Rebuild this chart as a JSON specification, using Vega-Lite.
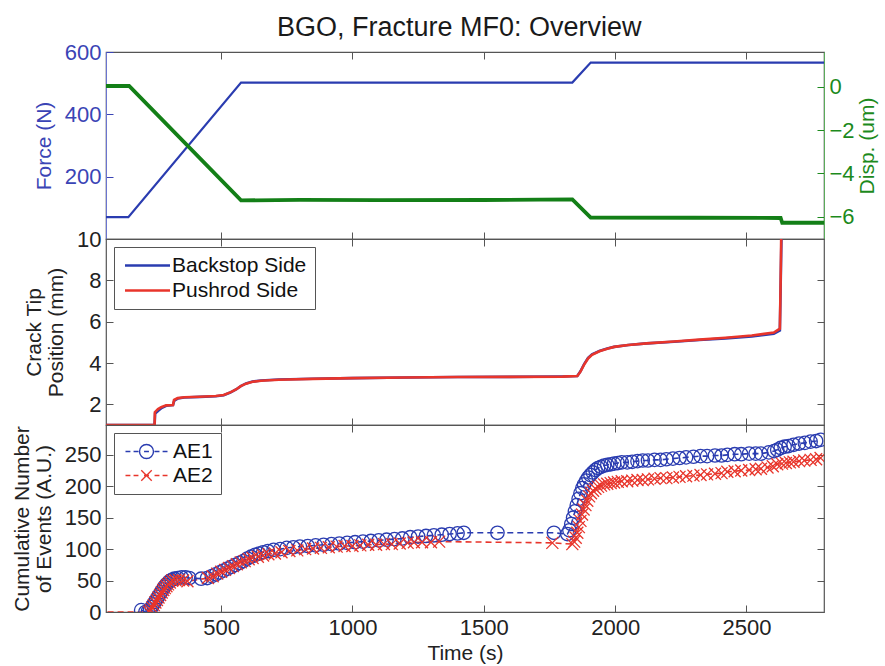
{
  "$schema": "https://vega.github.io/schema/vega-lite/v6.json",
  "background": "white",
  "padding": {"top": 14, "left": 10, "right": 5, "bottom": 3},
  "title": {"text": "BGO, Fracture MF0: Overview", "fontSize": 27, "fontWeight": "normal", "color": "#1a1a1a", "anchor": "middle", "offset": -2, "dx": 15, "font": "Liberation Sans"},
  "config": {
    "font": "Liberation Sans",
    "view": {"stroke": "#555555", "strokeWidth": 1.2},
    "axis": {"grid": false, "labelFontSize": 22, "titleFontSize": 21, "titleFontWeight": "normal", "labelColor": "#222222", "titleColor": "#222222", "domainColor": "#555555", "tickColor": "#555555", "tickSize": -7, "labelPadding": 12, "titlePadding": 10, "titleLineHeight": 22, "labelOverlap": false, "format": "d"}
  },
  "spacing": 0,
  "bounds": "flush",
  "resolve": {"scale": {"color": "independent", "shape": "independent"}, "legend": {"color": "independent", "shape": "independent"}},
  "datasets": {
    "force": [
      {"t": 62, "f": 70}, {"t": 147, "f": 70}, {"t": 576, "f": 502}, {"t": 1837, "f": 502}, {"t": 1907, "f": 566}, {"t": 2795, "f": 566}
    ],
    "disp": [
      {"t": 62, "d": 0.03}, {"t": 150, "d": 0.03}, {"t": 576, "d": -5.25}, {"t": 800, "d": -5.22}, {"t": 1100, "d": -5.24}, {"t": 1500, "d": -5.23}, {"t": 1837, "d": -5.2}, {"t": 1907, "d": -6.04}, {"t": 2300, "d": -6.05}, {"t": 2630, "d": -6.06}, {"t": 2636, "d": -6.28}, {"t": 2795, "d": -6.28}
    ],
    "crack": [
      {"t": 62, "v": 1.0, "s": "Backstop Side"}, {"t": 247, "v": 1.0, "s": "Backstop Side"}, {"t": 249, "v": 1.55, "s": "Backstop Side"}, {"t": 262, "v": 1.7, "s": "Backstop Side"}, {"t": 275, "v": 1.83, "s": "Backstop Side"}, {"t": 291, "v": 1.93, "s": "Backstop Side"}, {"t": 317, "v": 1.97, "s": "Backstop Side"}, {"t": 322, "v": 2.18, "s": "Backstop Side"}, {"t": 335, "v": 2.28, "s": "Backstop Side"}, {"t": 360, "v": 2.33, "s": "Backstop Side"}, {"t": 420, "v": 2.36, "s": "Backstop Side"}, {"t": 480, "v": 2.39, "s": "Backstop Side"}, {"t": 510, "v": 2.44, "s": "Backstop Side"}, {"t": 535, "v": 2.57, "s": "Backstop Side"}, {"t": 557, "v": 2.72, "s": "Backstop Side"}, {"t": 575, "v": 2.88, "s": "Backstop Side"}, {"t": 595, "v": 3.01, "s": "Backstop Side"}, {"t": 620, "v": 3.1, "s": "Backstop Side"}, {"t": 652, "v": 3.15, "s": "Backstop Side"}, {"t": 720, "v": 3.2, "s": "Backstop Side"}, {"t": 850, "v": 3.24, "s": "Backstop Side"}, {"t": 1000, "v": 3.27, "s": "Backstop Side"}, {"t": 1200, "v": 3.3, "s": "Backstop Side"}, {"t": 1400, "v": 3.32, "s": "Backstop Side"}, {"t": 1600, "v": 3.33, "s": "Backstop Side"}, {"t": 1800, "v": 3.35, "s": "Backstop Side"}, {"t": 1856, "v": 3.37, "s": "Backstop Side"}, {"t": 1868, "v": 3.6, "s": "Backstop Side"}, {"t": 1882, "v": 3.95, "s": "Backstop Side"}, {"t": 1897, "v": 4.25, "s": "Backstop Side"}, {"t": 1912, "v": 4.42, "s": "Backstop Side"}, {"t": 1940, "v": 4.58, "s": "Backstop Side"}, {"t": 1970, "v": 4.7, "s": "Backstop Side"}, {"t": 1996, "v": 4.78, "s": "Backstop Side"}, {"t": 2050, "v": 4.87, "s": "Backstop Side"}, {"t": 2120, "v": 4.95, "s": "Backstop Side"}, {"t": 2224, "v": 5.03, "s": "Backstop Side"}, {"t": 2320, "v": 5.11, "s": "Backstop Side"}, {"t": 2420, "v": 5.19, "s": "Backstop Side"}, {"t": 2520, "v": 5.28, "s": "Backstop Side"}, {"t": 2604, "v": 5.41, "s": "Backstop Side"}, {"t": 2627, "v": 5.57, "s": "Backstop Side"}, {"t": 2631, "v": 8.5, "s": "Backstop Side"}, {"t": 2633, "v": 10.0, "s": "Backstop Side"},
      {"t": 62, "v": 1.0, "s": "Pushrod Side"}, {"t": 247, "v": 1.0, "s": "Pushrod Side"}, {"t": 248, "v": 1.62, "s": "Pushrod Side"}, {"t": 260, "v": 1.77, "s": "Pushrod Side"}, {"t": 272, "v": 1.86, "s": "Pushrod Side"}, {"t": 291, "v": 1.95, "s": "Pushrod Side"}, {"t": 317, "v": 1.97, "s": "Pushrod Side"}, {"t": 321, "v": 2.21, "s": "Pushrod Side"}, {"t": 335, "v": 2.3, "s": "Pushrod Side"}, {"t": 360, "v": 2.34, "s": "Pushrod Side"}, {"t": 420, "v": 2.37, "s": "Pushrod Side"}, {"t": 480, "v": 2.4, "s": "Pushrod Side"}, {"t": 510, "v": 2.45, "s": "Pushrod Side"}, {"t": 535, "v": 2.58, "s": "Pushrod Side"}, {"t": 557, "v": 2.72, "s": "Pushrod Side"}, {"t": 575, "v": 2.88, "s": "Pushrod Side"}, {"t": 595, "v": 3.0, "s": "Pushrod Side"}, {"t": 620, "v": 3.09, "s": "Pushrod Side"}, {"t": 652, "v": 3.14, "s": "Pushrod Side"}, {"t": 720, "v": 3.19, "s": "Pushrod Side"}, {"t": 850, "v": 3.23, "s": "Pushrod Side"}, {"t": 1000, "v": 3.27, "s": "Pushrod Side"}, {"t": 1200, "v": 3.3, "s": "Pushrod Side"}, {"t": 1400, "v": 3.32, "s": "Pushrod Side"}, {"t": 1600, "v": 3.33, "s": "Pushrod Side"}, {"t": 1800, "v": 3.34, "s": "Pushrod Side"}, {"t": 1856, "v": 3.37, "s": "Pushrod Side"}, {"t": 1868, "v": 3.58, "s": "Pushrod Side"}, {"t": 1882, "v": 3.92, "s": "Pushrod Side"}, {"t": 1897, "v": 4.22, "s": "Pushrod Side"}, {"t": 1912, "v": 4.4, "s": "Pushrod Side"}, {"t": 1940, "v": 4.57, "s": "Pushrod Side"}, {"t": 1970, "v": 4.69, "s": "Pushrod Side"}, {"t": 1996, "v": 4.78, "s": "Pushrod Side"}, {"t": 2050, "v": 4.87, "s": "Pushrod Side"}, {"t": 2120, "v": 4.95, "s": "Pushrod Side"}, {"t": 2224, "v": 5.04, "s": "Pushrod Side"}, {"t": 2320, "v": 5.13, "s": "Pushrod Side"}, {"t": 2420, "v": 5.22, "s": "Pushrod Side"}, {"t": 2520, "v": 5.33, "s": "Pushrod Side"}, {"t": 2604, "v": 5.47, "s": "Pushrod Side"}, {"t": 2627, "v": 5.66, "s": "Pushrod Side"}, {"t": 2630, "v": 8.0, "s": "Pushrod Side"}, {"t": 2632, "v": 10.0, "s": "Pushrod Side"}
    ],
    "ae": [
      {"t": 196, "n": 3, "s": "AE1"}, {"t": 212, "n": 0, "s": "AE1"}, {"t": 222, "n": 1, "s": "AE1"}, {"t": 230, "n": 4, "s": "AE1"}, {"t": 236, "n": 8, "s": "AE1"}, {"t": 242, "n": 12, "s": "AE1"}, {"t": 248, "n": 16, "s": "AE1"}, {"t": 254, "n": 20, "s": "AE1"}, {"t": 260, "n": 24, "s": "AE1"}, {"t": 266, "n": 28, "s": "AE1"}, {"t": 272, "n": 32, "s": "AE1"}, {"t": 278, "n": 36, "s": "AE1"}, {"t": 284, "n": 40, "s": "AE1"}, {"t": 290, "n": 43, "s": "AE1"}, {"t": 297, "n": 46, "s": "AE1"}, {"t": 304, "n": 49, "s": "AE1"}, {"t": 312, "n": 51, "s": "AE1"}, {"t": 322, "n": 53, "s": "AE1"}, {"t": 335, "n": 54, "s": "AE1"}, {"t": 350, "n": 55, "s": "AE1"}, {"t": 365, "n": 55, "s": "AE1"}, {"t": 379, "n": 54, "s": "AE1"}, {"t": 424, "n": 53, "s": "AE1"}, {"t": 447, "n": 54, "s": "AE1"}, {"t": 465, "n": 57, "s": "AE1"}, {"t": 480, "n": 60, "s": "AE1"}, {"t": 495, "n": 63, "s": "AE1"}, {"t": 510, "n": 66, "s": "AE1"}, {"t": 525, "n": 69, "s": "AE1"}, {"t": 540, "n": 72, "s": "AE1"}, {"t": 555, "n": 75, "s": "AE1"}, {"t": 570, "n": 78, "s": "AE1"}, {"t": 585, "n": 81, "s": "AE1"}, {"t": 600, "n": 85, "s": "AE1"}, {"t": 614, "n": 88, "s": "AE1"}, {"t": 630, "n": 91, "s": "AE1"}, {"t": 645, "n": 93, "s": "AE1"}, {"t": 660, "n": 95, "s": "AE1"}, {"t": 678, "n": 97, "s": "AE1"}, {"t": 700, "n": 99, "s": "AE1"}, {"t": 725, "n": 100, "s": "AE1"}, {"t": 750, "n": 102, "s": "AE1"}, {"t": 775, "n": 103, "s": "AE1"}, {"t": 800, "n": 104, "s": "AE1"}, {"t": 830, "n": 105, "s": "AE1"}, {"t": 860, "n": 106, "s": "AE1"}, {"t": 890, "n": 107, "s": "AE1"}, {"t": 920, "n": 108, "s": "AE1"}, {"t": 950, "n": 109, "s": "AE1"}, {"t": 980, "n": 110, "s": "AE1"}, {"t": 1010, "n": 111, "s": "AE1"}, {"t": 1040, "n": 112, "s": "AE1"}, {"t": 1070, "n": 113, "s": "AE1"}, {"t": 1100, "n": 114, "s": "AE1"}, {"t": 1130, "n": 115, "s": "AE1"}, {"t": 1160, "n": 116, "s": "AE1"}, {"t": 1190, "n": 117, "s": "AE1"}, {"t": 1220, "n": 119, "s": "AE1"}, {"t": 1250, "n": 120, "s": "AE1"}, {"t": 1280, "n": 121, "s": "AE1"}, {"t": 1310, "n": 122, "s": "AE1"}, {"t": 1340, "n": 123, "s": "AE1"}, {"t": 1370, "n": 124, "s": "AE1"}, {"t": 1400, "n": 125, "s": "AE1"}, {"t": 1424, "n": 126, "s": "AE1"}, {"t": 1552, "n": 126, "s": "AE1"}, {"t": 1767, "n": 126, "s": "AE1"}, {"t": 1818, "n": 124, "s": "AE1"}, {"t": 1826, "n": 130, "s": "AE1"}, {"t": 1833, "n": 140, "s": "AE1"}, {"t": 1840, "n": 150, "s": "AE1"}, {"t": 1847, "n": 160, "s": "AE1"}, {"t": 1854, "n": 170, "s": "AE1"}, {"t": 1861, "n": 180, "s": "AE1"}, {"t": 1868, "n": 189, "s": "AE1"}, {"t": 1875, "n": 197, "s": "AE1"}, {"t": 1882, "n": 203, "s": "AE1"}, {"t": 1890, "n": 209, "s": "AE1"}, {"t": 1898, "n": 214, "s": "AE1"}, {"t": 1906, "n": 218, "s": "AE1"}, {"t": 1915, "n": 222, "s": "AE1"}, {"t": 1925, "n": 226, "s": "AE1"}, {"t": 1935, "n": 229, "s": "AE1"}, {"t": 1946, "n": 231, "s": "AE1"}, {"t": 1958, "n": 233, "s": "AE1"}, {"t": 1970, "n": 234, "s": "AE1"}, {"t": 1983, "n": 235, "s": "AE1"}, {"t": 1996, "n": 236, "s": "AE1"}, {"t": 2010, "n": 237, "s": "AE1"}, {"t": 2025, "n": 238, "s": "AE1"}, {"t": 2046, "n": 238, "s": "AE1"}, {"t": 2065, "n": 239, "s": "AE1"}, {"t": 2085, "n": 240, "s": "AE1"}, {"t": 2105, "n": 241, "s": "AE1"}, {"t": 2125, "n": 241, "s": "AE1"}, {"t": 2150, "n": 242, "s": "AE1"}, {"t": 2173, "n": 242, "s": "AE1"}, {"t": 2195, "n": 243, "s": "AE1"}, {"t": 2220, "n": 244, "s": "AE1"}, {"t": 2245, "n": 245, "s": "AE1"}, {"t": 2270, "n": 246, "s": "AE1"}, {"t": 2298, "n": 247, "s": "AE1"}, {"t": 2325, "n": 248, "s": "AE1"}, {"t": 2350, "n": 248, "s": "AE1"}, {"t": 2380, "n": 249, "s": "AE1"}, {"t": 2405, "n": 249, "s": "AE1"}, {"t": 2427, "n": 250, "s": "AE1"}, {"t": 2455, "n": 251, "s": "AE1"}, {"t": 2480, "n": 251, "s": "AE1"}, {"t": 2510, "n": 252, "s": "AE1"}, {"t": 2535, "n": 252, "s": "AE1"}, {"t": 2555, "n": 252, "s": "AE1"}, {"t": 2585, "n": 254, "s": "AE1"}, {"t": 2605, "n": 256, "s": "AE1"}, {"t": 2617, "n": 258, "s": "AE1"}, {"t": 2630, "n": 261, "s": "AE1"}, {"t": 2645, "n": 263, "s": "AE1"}, {"t": 2660, "n": 264, "s": "AE1"}, {"t": 2679, "n": 266, "s": "AE1"}, {"t": 2700, "n": 268, "s": "AE1"}, {"t": 2722, "n": 269, "s": "AE1"}, {"t": 2744, "n": 271, "s": "AE1"}, {"t": 2765, "n": 272, "s": "AE1"}, {"t": 2782, "n": 274, "s": "AE1"},
      {"t": 30, "n": 0, "s": "AE2"}, {"t": 226, "n": 0, "s": "AE2"}, {"t": 232, "n": 3, "s": "AE2"}, {"t": 238, "n": 7, "s": "AE2"}, {"t": 244, "n": 11, "s": "AE2"}, {"t": 250, "n": 15, "s": "AE2"}, {"t": 256, "n": 19, "s": "AE2"}, {"t": 262, "n": 23, "s": "AE2"}, {"t": 268, "n": 27, "s": "AE2"}, {"t": 274, "n": 31, "s": "AE2"}, {"t": 280, "n": 35, "s": "AE2"}, {"t": 286, "n": 38, "s": "AE2"}, {"t": 292, "n": 41, "s": "AE2"}, {"t": 298, "n": 44, "s": "AE2"}, {"t": 305, "n": 47, "s": "AE2"}, {"t": 314, "n": 50, "s": "AE2"}, {"t": 326, "n": 51, "s": "AE2"}, {"t": 340, "n": 51, "s": "AE2"}, {"t": 355, "n": 50, "s": "AE2"}, {"t": 372, "n": 49, "s": "AE2"}, {"t": 450, "n": 54, "s": "AE2"}, {"t": 468, "n": 57, "s": "AE2"}, {"t": 485, "n": 61, "s": "AE2"}, {"t": 500, "n": 64, "s": "AE2"}, {"t": 515, "n": 67, "s": "AE2"}, {"t": 530, "n": 70, "s": "AE2"}, {"t": 545, "n": 73, "s": "AE2"}, {"t": 560, "n": 76, "s": "AE2"}, {"t": 575, "n": 79, "s": "AE2"}, {"t": 590, "n": 81, "s": "AE2"}, {"t": 605, "n": 84, "s": "AE2"}, {"t": 620, "n": 86, "s": "AE2"}, {"t": 640, "n": 88, "s": "AE2"}, {"t": 660, "n": 90, "s": "AE2"}, {"t": 680, "n": 92, "s": "AE2"}, {"t": 705, "n": 93, "s": "AE2"}, {"t": 730, "n": 95, "s": "AE2"}, {"t": 760, "n": 97, "s": "AE2"}, {"t": 790, "n": 98, "s": "AE2"}, {"t": 820, "n": 100, "s": "AE2"}, {"t": 850, "n": 101, "s": "AE2"}, {"t": 880, "n": 102, "s": "AE2"}, {"t": 910, "n": 103, "s": "AE2"}, {"t": 940, "n": 104, "s": "AE2"}, {"t": 970, "n": 105, "s": "AE2"}, {"t": 1000, "n": 105, "s": "AE2"}, {"t": 1030, "n": 106, "s": "AE2"}, {"t": 1060, "n": 107, "s": "AE2"}, {"t": 1090, "n": 107, "s": "AE2"}, {"t": 1120, "n": 108, "s": "AE2"}, {"t": 1150, "n": 108, "s": "AE2"}, {"t": 1180, "n": 109, "s": "AE2"}, {"t": 1210, "n": 110, "s": "AE2"}, {"t": 1234, "n": 111, "s": "AE2"}, {"t": 1265, "n": 111, "s": "AE2"}, {"t": 1299, "n": 111, "s": "AE2"}, {"t": 1330, "n": 112, "s": "AE2"}, {"t": 1761, "n": 110, "s": "AE2"}, {"t": 1837, "n": 108, "s": "AE2"}, {"t": 1844, "n": 112, "s": "AE2"}, {"t": 1850, "n": 118, "s": "AE2"}, {"t": 1856, "n": 126, "s": "AE2"}, {"t": 1862, "n": 135, "s": "AE2"}, {"t": 1868, "n": 145, "s": "AE2"}, {"t": 1874, "n": 155, "s": "AE2"}, {"t": 1880, "n": 163, "s": "AE2"}, {"t": 1887, "n": 170, "s": "AE2"}, {"t": 1894, "n": 177, "s": "AE2"}, {"t": 1901, "n": 184, "s": "AE2"}, {"t": 1908, "n": 189, "s": "AE2"}, {"t": 1916, "n": 193, "s": "AE2"}, {"t": 1925, "n": 196, "s": "AE2"}, {"t": 1935, "n": 199, "s": "AE2"}, {"t": 1946, "n": 201, "s": "AE2"}, {"t": 1958, "n": 203, "s": "AE2"}, {"t": 1970, "n": 204, "s": "AE2"}, {"t": 1983, "n": 205, "s": "AE2"}, {"t": 1996, "n": 206, "s": "AE2"}, {"t": 2010, "n": 207, "s": "AE2"}, {"t": 2025, "n": 208, "s": "AE2"}, {"t": 2046, "n": 208, "s": "AE2"}, {"t": 2065, "n": 209, "s": "AE2"}, {"t": 2085, "n": 210, "s": "AE2"}, {"t": 2105, "n": 210, "s": "AE2"}, {"t": 2125, "n": 211, "s": "AE2"}, {"t": 2150, "n": 212, "s": "AE2"}, {"t": 2173, "n": 213, "s": "AE2"}, {"t": 2195, "n": 213, "s": "AE2"}, {"t": 2220, "n": 214, "s": "AE2"}, {"t": 2245, "n": 215, "s": "AE2"}, {"t": 2270, "n": 216, "s": "AE2"}, {"t": 2298, "n": 217, "s": "AE2"}, {"t": 2325, "n": 218, "s": "AE2"}, {"t": 2350, "n": 219, "s": "AE2"}, {"t": 2380, "n": 220, "s": "AE2"}, {"t": 2405, "n": 221, "s": "AE2"}, {"t": 2427, "n": 223, "s": "AE2"}, {"t": 2455, "n": 224, "s": "AE2"}, {"t": 2480, "n": 225, "s": "AE2"}, {"t": 2510, "n": 226, "s": "AE2"}, {"t": 2535, "n": 227, "s": "AE2"}, {"t": 2555, "n": 228, "s": "AE2"}, {"t": 2580, "n": 230, "s": "AE2"}, {"t": 2600, "n": 232, "s": "AE2"}, {"t": 2617, "n": 235, "s": "AE2"}, {"t": 2635, "n": 236, "s": "AE2"}, {"t": 2650, "n": 237, "s": "AE2"}, {"t": 2665, "n": 238, "s": "AE2"}, {"t": 2679, "n": 239, "s": "AE2"}, {"t": 2700, "n": 240, "s": "AE2"}, {"t": 2720, "n": 241, "s": "AE2"}, {"t": 2744, "n": 242, "s": "AE2"}, {"t": 2765, "n": 243, "s": "AE2"}, {"t": 2782, "n": 245, "s": "AE2"}
    ]
  },
  "vconcat": [
    {
      "width": 718, "height": 187,
      "layer": [
        {
          "data": {"name": "force"},
          "mark": {"type": "line", "color": "#2a3cb0", "strokeWidth": 2.2, "clip": true},
          "encoding": {
            "x": {"field": "t", "type": "quantitative", "scale": {"domain": [62, 2795], "nice": false, "zero": false}, "axis": {"orient": "bottom", "labels": false, "title": null, "values": [500, 1000, 1500, 2000, 2500], "domain": false}},
            "y": {"field": "f", "type": "quantitative", "scale": {"domain": [0, 600], "nice": false, "zero": false}, "axis": {"orient": "left", "values": [200, 400, 600], "title": "Force (N)", "labelColor": "#3a44b5", "titleColor": "#3a44b5", "domainColor": "#6a74d0", "tickColor": "#3a44b5"}}
          }
        },
        {
          "data": {"name": "disp"},
          "mark": {"type": "line", "color": "#137f17", "strokeWidth": 3.8, "clip": true},
          "encoding": {
            "x": {"field": "t", "type": "quantitative", "scale": {"domain": [62, 2795], "nice": false, "zero": false}, "axis": {"orient": "top", "labels": false, "title": null, "values": [500, 1000, 1500, 2000, 2500], "domain": false}},
            "y": {"field": "d", "type": "quantitative", "scale": {"domain": [-7.03, 1.6], "nice": false, "zero": false}, "axis": {"orient": "right", "values": [-6, -4, -2, 0], "title": "Disp. (um)", "titleAngle": 270, "titleBaseline": "top", "titlePadding": 2, "labelColor": "#1c8a1c", "titleColor": "#1c8a1c", "domainColor": "#5aaa5a", "tickColor": "#1c8a1c"}}
          }
        }
      ],
      "resolve": {"scale": {"y": "independent"}, "axis": {"x": "independent", "y": "independent"}}
    },
    {
      "width": 718, "height": 186,
      "layer": [
        {
          "data": {"name": "crack"},
          "mark": {"type": "line", "strokeWidth": 2.6, "clip": true},
          "encoding": {
            "x": {"field": "t", "type": "quantitative", "scale": {"domain": [62, 2795], "nice": false, "zero": false}, "axis": {"orient": "bottom", "labels": false, "title": null, "values": [500, 1000, 1500, 2000, 2500], "domain": false}},
            "y": {"field": "v", "type": "quantitative", "scale": {"domain": [1, 10], "nice": false, "zero": false}, "axis": {"orient": "left", "values": [2, 4, 6, 8, 10], "title": ["Crack Tip", "Position (mm)"], "domain": false}},
            "color": {"field": "s", "type": "nominal", "scale": {"domain": ["Backstop Side", "Pushrod Side"], "range": ["#2a3cb0", "#e8352b"]},
              "legend": {"orient": "top-left", "offset": 8, "title": null, "labelFontSize": 21, "labelColor": "#111111", "strokeColor": "#555555", "fillColor": "white", "padding": 8, "rowPadding": 3, "symbolType": "M-1,0H5", "symbolSize": 225, "symbolStrokeWidth": 2.6, "labelOffset": 29}}
          }
        },
        {
          "data": {"name": "crack"},
          "mark": {"type": "line", "opacity": 0},
          "encoding": {
            "x": {"field": "t", "type": "quantitative", "axis": {"orient": "top", "labels": false, "title": null, "values": [500, 1000, 1500, 2000, 2500], "domain": false}},
            "y": {"field": "v", "type": "quantitative", "axis": {"orient": "right", "labels": false, "title": null, "values": [2, 4, 6, 8], "domain": false}}
          }
        }
      ],
      "resolve": {"axis": {"x": "independent", "y": "independent"}}
    },
    {
      "width": 718, "height": 187,
      "layer": [
        {
          "data": {"name": "ae"},
          "mark": {"type": "line", "strokeWidth": 1.6, "strokeDash": [6, 4], "clip": true},
          "encoding": {
            "x": {"field": "t", "type": "quantitative", "scale": {"domain": [62, 2795], "nice": false, "zero": false}, "axis": {"orient": "bottom", "title": "Time (s)", "values": [500, 1000, 1500, 2000, 2500], "domain": false, "titlePadding": 4}},
            "y": {"field": "n", "type": "quantitative", "scale": {"domain": [0, 297.5], "nice": false, "zero": false}, "axis": {"orient": "left", "values": [0, 50, 100, 150, 200, 250], "title": ["Cumulative Number", "of Events (A.U.)"], "domain": false}},
            "color": {"field": "s", "type": "nominal", "scale": {"domain": ["AE1", "AE2"], "range": ["#2a3cb0", "#e8352b"]}}
          }
        },
        {
          "data": {"name": "ae"},
          "transform": [{"filter": {"field": "s", "equal": "AE1"}}],
          "mark": {"type": "point", "shape": "circle", "filled": false, "size": 180, "strokeWidth": 1.3, "opacity": 1, "color": "#2a3cb0", "clip": true},
          "encoding": {
            "x": {"field": "t", "type": "quantitative", "axis": null},
            "y": {"field": "n", "type": "quantitative", "axis": null}
          }
        },
        {
          "data": {"name": "ae"},
          "transform": [{"filter": {"field": "s", "equal": "AE2"}}],
          "mark": {"type": "point", "shape": "M-1,-1L1,1M-1,1L1,-1", "filled": false, "size": 144, "strokeWidth": 1.3, "opacity": 1, "color": "#e8352b", "clip": true},
          "encoding": {
            "x": {"field": "t", "type": "quantitative", "axis": null},
            "y": {"field": "n", "type": "quantitative", "axis": null}
          }
        },
        {
          "data": {"name": "ae"},
          "mark": {"type": "point", "filled": false, "opacity": 0, "size": 196, "strokeWidth": 1.4},
          "encoding": {
            "x": {"field": "t", "type": "quantitative", "axis": {"orient": "top", "labels": false, "title": null, "values": [500, 1000, 1500, 2000, 2500], "domain": false}},
            "y": {"field": "n", "type": "quantitative", "axis": {"orient": "right", "labels": false, "title": null, "values": [50, 100, 150, 200, 250], "domain": false}},
            "color": {"field": "s", "type": "nominal"},
            "shape": {"field": "s", "type": "nominal", "scale": {"domain": ["AE1", "AE2"], "range": ["M-1,0H-0.3M0.15,0H0.85M1.65,0H2.35M3.15,0H3.85M4.3,0H5M3,0A1,1,0,1,1,1,0A1,1,0,1,1,3,0", "M-1,0H-0.3M0.15,0H0.85M1.65,0H2.35M3.15,0H3.85M4.3,0H5M1.25,-0.75L2.75,0.75M1.25,0.75L2.75,-0.75"]},
              "legend": {"orient": "top-left", "offset": 8, "title": null, "labelFontSize": 21, "labelColor": "#111111", "strokeColor": "#555555", "fillColor": "white", "padding": 8, "rowPadding": 2, "symbolSize": 196, "symbolStrokeWidth": 1.4, "symbolOpacity": 1, "symbolFillColor": "transparent", "labelOffset": 30}}
          }
        }
      ],
      "resolve": {"axis": {"x": "independent", "y": "independent"}}
    }
  ]
}
